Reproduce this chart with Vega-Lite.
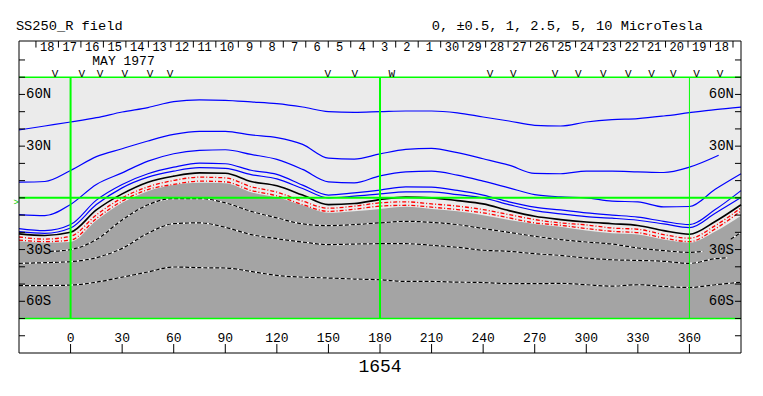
{
"$schema":"https://vega.github.io/schema/vega-lite/v6.json",
"width":722,"height":312,
"autosize":{"type":"none"},
"padding":{"left":19,"top":41,"right":22,"bottom":43},
"background":"white",
"config":{"view":{"stroke":null},"font":"Liberation Mono"},
"datasets":{
"contours":[
{"level":10,"lon":-30,"lat":39.4},{"level":10,"lon":-15,"lat":41.7},{"level":10,"lon":0,"lat":44.0},{"level":10,"lon":15,"lat":46.5},{"level":10,"lon":30,"lat":49.8},{"level":10,"lon":45,"lat":52.4},{"level":10,"lon":60,"lat":55.8},{"level":10,"lon":75,"lat":56.8},{"level":10,"lon":90,"lat":56.6},{"level":10,"lon":105,"lat":55.7},{"level":10,"lon":120,"lat":54.7},{"level":10,"lon":135,"lat":52.7},{"level":10,"lon":150,"lat":50.0},{"level":10,"lon":165,"lat":49.6},{"level":10,"lon":180,"lat":50.0},{"level":10,"lon":195,"lat":50.4},{"level":10,"lon":210,"lat":50.4},{"level":10,"lon":225,"lat":49.3},{"level":10,"lon":240,"lat":46.9},{"level":10,"lon":255,"lat":44.6},{"level":10,"lon":270,"lat":42.1},{"level":10,"lon":285,"lat":41.7},{"level":10,"lon":300,"lat":44.0},{"level":10,"lon":315,"lat":45.4},{"level":10,"lon":330,"lat":46.0},{"level":10,"lon":345,"lat":47.5},{"level":10,"lon":360,"lat":49.4},{"level":10,"lon":375,"lat":51.2},{"level":10,"lon":390,"lat":52.7},
{"level":5,"lon":-30,"lat":9.1},{"level":5,"lon":-15,"lat":9.5},{"level":5,"lon":0,"lat":15.9},{"level":5,"lon":15,"lat":23.9},{"level":5,"lon":30,"lat":28.5},{"level":5,"lon":45,"lat":33.0},{"level":5,"lon":60,"lat":36.8},{"level":5,"lon":75,"lat":38.6},{"level":5,"lon":90,"lat":38.6},{"level":5,"lon":105,"lat":36.5},{"level":5,"lon":120,"lat":34.9},{"level":5,"lon":135,"lat":31.0},{"level":5,"lon":150,"lat":23.0},{"level":5,"lon":165,"lat":22.5},{"level":5,"lon":180,"lat":25.5},{"level":5,"lon":195,"lat":28.1},{"level":5,"lon":210,"lat":28.7},{"level":5,"lon":225,"lat":26.2},{"level":5,"lon":240,"lat":22.7},{"level":5,"lon":255,"lat":19.0},{"level":5,"lon":270,"lat":14.2},{"level":5,"lon":285,"lat":14.0},{"level":5,"lon":300,"lat":15.5},{"level":5,"lon":315,"lat":15.5},{"level":5,"lon":330,"lat":15.1},{"level":5,"lon":345,"lat":14.7},{"level":5,"lon":360,"lat":17.8},{"level":5,"lon":377,"lat":24.7},
{"level":2.5,"lon":-30,"lat":-9.7},{"level":2.5,"lon":-15,"lat":-10.3},{"level":2.5,"lon":0,"lat":-3.8},{"level":2.5,"lon":15,"lat":7.8},{"level":2.5,"lon":30,"lat":14.5},{"level":2.5,"lon":45,"lat":21.3},{"level":2.5,"lon":60,"lat":25.6},{"level":2.5,"lon":75,"lat":27.5},{"level":2.5,"lon":90,"lat":27.9},{"level":2.5,"lon":105,"lat":25.2},{"level":2.5,"lon":120,"lat":22.3},{"level":2.5,"lon":135,"lat":16.5},{"level":2.5,"lon":150,"lat":9.3},{"level":2.5,"lon":165,"lat":8.7},{"level":2.5,"lon":180,"lat":12.8},{"level":2.5,"lon":195,"lat":15.1},{"level":2.5,"lon":210,"lat":15.5},{"level":2.5,"lon":225,"lat":13.2},{"level":2.5,"lon":240,"lat":9.7},{"level":2.5,"lon":255,"lat":5.8},{"level":2.5,"lon":270,"lat":1.9},{"level":2.5,"lon":285,"lat":0.6},{"level":2.5,"lon":300,"lat":0.0},{"level":2.5,"lon":315,"lat":-1.9},{"level":2.5,"lon":330,"lat":-2.3},{"level":2.5,"lon":345,"lat":-5.2},{"level":2.5,"lon":360,"lat":-5.0},{"level":2.5,"lon":375,"lat":5.0},{"level":2.5,"lon":390,"lat":14.0},
{"level":1,"lon":-30,"lat":-17.8},{"level":1,"lon":-15,"lat":-19.0},{"level":1,"lon":0,"lat":-15.5},{"level":1,"lon":15,"lat":-1.3},{"level":1,"lon":30,"lat":7.8},{"level":1,"lon":45,"lat":14.0},{"level":1,"lon":60,"lat":17.8},{"level":1,"lon":75,"lat":20.2},{"level":1,"lon":90,"lat":19.8},{"level":1,"lon":105,"lat":16.0},{"level":1,"lon":120,"lat":13.6},{"level":1,"lon":135,"lat":7.4},{"level":1,"lon":150,"lat":1.6},{"level":1,"lon":165,"lat":2.9},{"level":1,"lon":180,"lat":4.5},{"level":1,"lon":195,"lat":6.4},{"level":1,"lon":210,"lat":6.2},{"level":1,"lon":225,"lat":4.3},{"level":1,"lon":240,"lat":1.6},{"level":1,"lon":255,"lat":-2.3},{"level":1,"lon":270,"lat":-5.4},{"level":1,"lon":285,"lat":-7.0},{"level":1,"lon":300,"lat":-8.7},{"level":1,"lon":315,"lat":-10.0},{"level":1,"lon":330,"lat":-11.2},{"level":1,"lon":345,"lat":-13.6},{"level":1,"lon":360,"lat":-15.5},{"level":1,"lon":375,"lat":-6.8},{"level":1,"lon":390,"lat":4.2},
{"level":0.5,"lon":-30,"lat":-19.6},{"level":0.5,"lon":-15,"lat":-20.6},{"level":0.5,"lon":0,"lat":-17.5},{"level":0.5,"lon":15,"lat":-3.9},{"level":0.5,"lon":30,"lat":5.8},{"level":0.5,"lon":45,"lat":12.0},{"level":0.5,"lon":60,"lat":15.5},{"level":0.5,"lon":75,"lat":17.5},{"level":0.5,"lon":90,"lat":17.1},{"level":0.5,"lon":105,"lat":13.5},{"level":0.5,"lon":120,"lat":11.0},{"level":0.5,"lon":135,"lat":5.4},{"level":0.5,"lon":150,"lat":0.0},{"level":0.5,"lon":165,"lat":1.0},{"level":0.5,"lon":180,"lat":2.3},{"level":0.5,"lon":195,"lat":3.5},{"level":0.5,"lon":210,"lat":3.5},{"level":0.5,"lon":225,"lat":1.9},{"level":0.5,"lon":240,"lat":0.0},{"level":0.5,"lon":255,"lat":-3.9},{"level":0.5,"lon":270,"lat":-7.4},{"level":0.5,"lon":285,"lat":-9.3},{"level":0.5,"lon":300,"lat":-10.9},{"level":0.5,"lon":315,"lat":-11.8},{"level":0.5,"lon":330,"lat":-13.0},{"level":0.5,"lon":345,"lat":-15.1},{"level":0.5,"lon":360,"lat":-17.3},{"level":0.5,"lon":375,"lat":-8.9},{"level":0.5,"lon":390,"lat":0.2},
{"level":0,"lon":-30,"lat":-20.9},{"level":0,"lon":-15,"lat":-21.8},{"level":0,"lon":0,"lat":-20.0},{"level":0,"lon":15,"lat":-7.0},{"level":0,"lon":30,"lat":2.3},{"level":0,"lon":45,"lat":9.1},{"level":0,"lon":60,"lat":12.6},{"level":0,"lon":75,"lat":14.5},{"level":0,"lon":90,"lat":14.3},{"level":0,"lon":105,"lat":9.5},{"level":0,"lon":120,"lat":7.0},{"level":0,"lon":135,"lat":1.6},{"level":0,"lon":150,"lat":-3.9},{"level":0,"lon":165,"lat":-3.3},{"level":0,"lon":180,"lat":-1.0},{"level":0,"lon":195,"lat":0.4},{"level":0,"lon":210,"lat":0.0},{"level":0,"lon":225,"lat":-1.6},{"level":0,"lon":240,"lat":-3.5},{"level":0,"lon":255,"lat":-7.4},{"level":0,"lon":270,"lat":-10.7},{"level":0,"lon":285,"lat":-12.6},{"level":0,"lon":300,"lat":-14.0},{"level":0,"lon":315,"lat":-15.0},{"level":0,"lon":330,"lat":-16.0},{"level":0,"lon":345,"lat":-19.0},{"level":0,"lon":360,"lat":-21.1},{"level":0,"lon":375,"lat":-13.7},{"level":0,"lon":390,"lat":-4.0},
{"level":-0.5,"lon":-30,"lat":-22.7},{"level":-0.5,"lon":-15,"lat":-23.9},{"level":-0.5,"lon":0,"lat":-22.3},{"level":-0.5,"lon":15,"lat":-9.9},{"level":-0.5,"lon":30,"lat":0.0},{"level":-0.5,"lon":45,"lat":6.4},{"level":-0.5,"lon":60,"lat":10.1},{"level":-0.5,"lon":75,"lat":12.0},{"level":-0.5,"lon":90,"lat":11.6},{"level":-0.5,"lon":105,"lat":6.5},{"level":-0.5,"lon":120,"lat":3.3},{"level":-0.5,"lon":135,"lat":-1.9},{"level":-0.5,"lon":150,"lat":-6.0},{"level":-0.5,"lon":165,"lat":-4.8},{"level":-0.5,"lon":180,"lat":-2.9},{"level":-0.5,"lon":195,"lat":-2.3},{"level":-0.5,"lon":210,"lat":-3.5},{"level":-0.5,"lon":225,"lat":-4.8},{"level":-0.5,"lon":240,"lat":-6.8},{"level":-0.5,"lon":255,"lat":-9.7},{"level":-0.5,"lon":270,"lat":-12.6},{"level":-0.5,"lon":285,"lat":-14.5},{"level":-0.5,"lon":300,"lat":-15.7},{"level":-0.5,"lon":315,"lat":-17.5},{"level":-0.5,"lon":330,"lat":-18.2},{"level":-0.5,"lon":345,"lat":-21.3},{"level":-0.5,"lon":360,"lat":-23.4},{"level":-0.5,"lon":375,"lat":-16.1},{"level":-0.5,"lon":390,"lat":-5.8},
{"level":-1,"lon":-30,"lat":-24.5},{"level":-1,"lon":-15,"lat":-25.4},{"level":-1,"lon":0,"lat":-24.5},{"level":-1,"lon":15,"lat":-12.0},{"level":-1,"lon":30,"lat":-1.9},{"level":-1,"lon":45,"lat":4.8},{"level":-1,"lon":60,"lat":7.8},{"level":-1,"lon":75,"lat":9.7},{"level":-1,"lon":90,"lat":9.3},{"level":-1,"lon":105,"lat":4.3},{"level":-1,"lon":120,"lat":1.2},{"level":-1,"lon":135,"lat":-3.9},{"level":-1,"lon":150,"lat":-7.8},{"level":-1,"lon":165,"lat":-6.6},{"level":-1,"lon":180,"lat":-4.8},{"level":-1,"lon":195,"lat":-4.3},{"level":-1,"lon":210,"lat":-5.4},{"level":-1,"lon":225,"lat":-6.8},{"level":-1,"lon":240,"lat":-8.7},{"level":-1,"lon":255,"lat":-11.6},{"level":-1,"lon":270,"lat":-14.5},{"level":-1,"lon":285,"lat":-15.9},{"level":-1,"lon":300,"lat":-17.8},{"level":-1,"lon":315,"lat":-19.4},{"level":-1,"lon":330,"lat":-20.2},{"level":-1,"lon":345,"lat":-23.3},{"level":-1,"lon":360,"lat":-25.4},{"level":-1,"lon":375,"lat":-18.0},{"level":-1,"lon":390,"lat":-7.6},
{"level":-2.5,"part":"a","lon":-12,"lat":-31.0},{"level":-2.5,"part":"a","lon":0,"lat":-30.0},{"level":-2.5,"part":"a","lon":15,"lat":-24.2},{"level":-2.5,"part":"a","lon":30,"lat":-12.8},{"level":-2.5,"part":"a","lon":45,"lat":-4.0},{"level":-2.5,"part":"a","lon":60,"lat":-0.4},{"level":-2.5,"part":"a","lon":75,"lat":-0.4},{"level":-2.5,"part":"a","lon":90,"lat":-2.9},{"level":-2.5,"part":"a","lon":105,"lat":-7.8},{"level":-2.5,"part":"a","lon":120,"lat":-11.6},{"level":-2.5,"part":"a","lon":135,"lat":-15.1},{"level":-2.5,"part":"a","lon":150,"lat":-16.1},{"level":-2.5,"part":"a","lon":165,"lat":-15.5},{"level":-2.5,"part":"a","lon":180,"lat":-14.5},{"level":-2.5,"part":"a","lon":195,"lat":-13.6},{"level":-2.5,"part":"a","lon":210,"lat":-14.2},{"level":-2.5,"part":"a","lon":225,"lat":-15.5},{"level":-2.5,"part":"a","lon":240,"lat":-17.8},{"level":-2.5,"part":"a","lon":255,"lat":-20.0},{"level":-2.5,"part":"a","lon":270,"lat":-22.3},{"level":-2.5,"part":"a","lon":285,"lat":-24.2},{"level":-2.5,"part":"a","lon":300,"lat":-25.6},{"level":-2.5,"part":"a","lon":315,"lat":-26.8},{"level":-2.5,"part":"a","lon":330,"lat":-29.1},{"level":-2.5,"part":"a","lon":345,"lat":-30.6},{"level":-2.5,"part":"a","lon":360,"lat":-31.6},{"level":-2.5,"part":"a","lon":368,"lat":-31.0},
{"level":-2.5,"part":"b","lon":384,"lat":-24.0},{"level":-2.5,"part":"b","lon":390,"lat":-20.0},
{"level":-5,"part":"a","lon":-30,"lat":-38.0},{"level":-5,"part":"a","lon":-15,"lat":-37.6},{"level":-5,"part":"a","lon":0,"lat":-37.0},{"level":-5,"part":"a","lon":15,"lat":-34.7},{"level":-5,"part":"a","lon":30,"lat":-29.3},{"level":-5,"part":"a","lon":45,"lat":-20.5},{"level":-5,"part":"a","lon":60,"lat":-15.0},{"level":-5,"part":"a","lon":75,"lat":-14.5},{"level":-5,"part":"a","lon":90,"lat":-17.1},{"level":-5,"part":"a","lon":105,"lat":-21.3},{"level":-5,"part":"a","lon":120,"lat":-23.7},{"level":-5,"part":"a","lon":135,"lat":-25.6},{"level":-5,"part":"a","lon":150,"lat":-27.1},{"level":-5,"part":"a","lon":165,"lat":-26.8},{"level":-5,"part":"a","lon":180,"lat":-26.6},{"level":-5,"part":"a","lon":195,"lat":-26.6},{"level":-5,"part":"a","lon":210,"lat":-27.5},{"level":-5,"part":"a","lon":225,"lat":-28.7},{"level":-5,"part":"a","lon":240,"lat":-30.4},{"level":-5,"part":"a","lon":255,"lat":-31.0},{"level":-5,"part":"a","lon":270,"lat":-32.4},{"level":-5,"part":"a","lon":285,"lat":-33.4},{"level":-5,"part":"a","lon":300,"lat":-34.9},{"level":-5,"part":"a","lon":315,"lat":-35.9},{"level":-5,"part":"a","lon":330,"lat":-36.3},{"level":-5,"part":"a","lon":345,"lat":-36.8},{"level":-5,"part":"a","lon":360,"lat":-38.0},{"level":-5,"part":"a","lon":375,"lat":-35.3},{"level":-5,"part":"a","lon":382,"lat":-34.8},
{"level":-10,"part":"a","lon":-30,"lat":-50.9},{"level":-10,"part":"a","lon":-15,"lat":-50.9},{"level":-10,"part":"a","lon":0,"lat":-50.6},{"level":-10,"part":"a","lon":15,"lat":-48.9},{"level":-10,"part":"a","lon":30,"lat":-46.0},{"level":-10,"part":"a","lon":45,"lat":-43.0},{"level":-10,"part":"a","lon":60,"lat":-40.1},{"level":-10,"part":"a","lon":75,"lat":-40.5},{"level":-10,"part":"a","lon":90,"lat":-40.7},{"level":-10,"part":"a","lon":105,"lat":-42.7},{"level":-10,"part":"a","lon":120,"lat":-45.0},{"level":-10,"part":"a","lon":135,"lat":-46.0},{"level":-10,"part":"a","lon":150,"lat":-46.5},{"level":-10,"part":"a","lon":165,"lat":-47.1},{"level":-10,"part":"a","lon":180,"lat":-47.5},{"level":-10,"part":"a","lon":195,"lat":-48.5},{"level":-10,"part":"a","lon":210,"lat":-48.5},{"level":-10,"part":"a","lon":225,"lat":-48.9},{"level":-10,"part":"a","lon":240,"lat":-49.1},{"level":-10,"part":"a","lon":255,"lat":-49.8},{"level":-10,"part":"a","lon":270,"lat":-49.8},{"level":-10,"part":"a","lon":285,"lat":-49.6},{"level":-10,"part":"a","lon":300,"lat":-50.4},{"level":-10,"part":"a","lon":315,"lat":-51.2},{"level":-10,"part":"a","lon":330,"lat":-50.4},{"level":-10,"part":"a","lon":345,"lat":-51.4},{"level":-10,"part":"a","lon":360,"lat":-52.0},{"level":-10,"part":"a","lon":375,"lat":-50.4},{"level":-10,"part":"a","lon":390,"lat":-48.9}
],
"boundary":[
{"lon":-30,"lat":-25.2},{"lon":-15,"lat":-26.0},{"lon":0,"lat":-25.6},{"lon":15,"lat":-13.2},{"lon":30,"lat":-2.9},{"lon":45,"lat":3.9},{"lon":60,"lat":7.4},{"lon":75,"lat":8.7},{"lon":90,"lat":8.5},{"lon":105,"lat":3.3},{"lon":120,"lat":0.3},{"lon":135,"lat":-4.3},{"lon":150,"lat":-8.7},{"lon":165,"lat":-7.8},{"lon":180,"lat":-6.4},{"lon":195,"lat":-5.2},{"lon":210,"lat":-6.4},{"lon":225,"lat":-7.8},{"lon":240,"lat":-10.1},{"lon":255,"lat":-12.8},{"lon":270,"lat":-15.1},{"lon":285,"lat":-16.7},{"lon":300,"lat":-19.0},{"lon":315,"lat":-20.5},{"lon":330,"lat":-21.3},{"lon":345,"lat":-24.2},{"lon":360,"lat":-26.0},{"lon":375,"lat":-19.5},{"lon":390,"lat":-10.4}
],
"days":[
{"lon":-13.6,"day":"18"},{"lon":-0.52,"day":"17"},{"lon":12.56,"day":"16"},{"lon":25.64,"day":"15"},{"lon":38.72,"day":"14"},{"lon":51.8,"day":"13"},{"lon":64.88,"day":"12"},{"lon":77.96,"day":"11"},{"lon":91.04,"day":"10"},{"lon":104.12,"day":"9"},{"lon":117.2,"day":"8"},{"lon":130.28,"day":"7"},{"lon":143.36,"day":"6"},{"lon":156.44,"day":"5"},{"lon":169.52,"day":"4"},{"lon":182.6,"day":"3"},{"lon":195.68,"day":"2"},{"lon":208.76,"day":"1"},{"lon":221.84,"day":"30"},{"lon":234.92,"day":"29"},{"lon":248.0,"day":"28"},{"lon":261.08,"day":"27"},{"lon":274.16,"day":"26"},{"lon":287.24,"day":"25"},{"lon":300.32,"day":"24"},{"lon":313.4,"day":"23"},{"lon":326.48,"day":"22"},{"lon":339.56,"day":"21"},{"lon":352.64,"day":"20"},{"lon":365.72,"day":"19"},{"lon":378.8,"day":"18"}
],
"seps":[
{"lon":-20.14},{"lon":-7.06},{"lon":6.02},{"lon":19.1},{"lon":32.18},{"lon":45.26},{"lon":58.34},{"lon":71.42},{"lon":84.5},{"lon":97.58},{"lon":110.66},{"lon":123.74},{"lon":136.82},{"lon":149.9},{"lon":162.98},{"lon":176.06},{"lon":189.14},{"lon":202.22},{"lon":215.3},{"lon":228.38},{"lon":241.46},{"lon":254.54},{"lon":267.62},{"lon":280.7},{"lon":293.78},{"lon":306.86},{"lon":319.94},{"lon":333.02},{"lon":346.1},{"lon":359.18},{"lon":372.26},{"lon":385.34}
],
"obs":[
{"lon":-9.1,"sym":"V"},{"lon":6.5,"sym":"V"},{"lon":17.1,"sym":"V"},{"lon":31.6,"sym":"V"},{"lon":46.2,"sym":"V"},{"lon":57.8,"sym":"V"},{"lon":149.7,"sym":"V"},{"lon":165.4,"sym":"V"},{"lon":186.8,"sym":"W"},{"lon":244.0,"sym":"V"},{"lon":257.5,"sym":"V"},{"lon":281.8,"sym":"V"},{"lon":295.3,"sym":"V"},{"lon":309.9,"sym":"V"},{"lon":324.4,"sym":"V"},{"lon":338.0,"sym":"V"},{"lon":350.6,"sym":"V"},{"lon":364.2,"sym":"V"},{"lon":377.8,"sym":"V"}
],
"xticks":[
{"lon":0},{"lon":30},{"lon":60},{"lon":90},{"lon":120},{"lon":150},{"lon":180},{"lon":210},{"lon":240},{"lon":270},{"lon":300},{"lon":330},{"lon":360}
],
"yticks":[
{"lat":-80},{"lat":-70},{"lat":-60},{"lat":-50},{"lat":-40},{"lat":-30},{"lat":-20},{"lat":-10},{"lat":0},{"lat":10},{"lat":20},{"lat":30},{"lat":40},{"lat":50},{"lat":60},{"lat":70},{"lat":80}
],
"ylabels":[
{"lat":60,"label":"60N"},{"lat":30,"label":"30N"},{"lat":-30,"label":"30S"},{"lat":-60,"label":"60S"}
]
},
"layer":[
{"data":{"values":[{}]},"mark":{"type":"rect","color":"#ebebeb"},
 "encoding":{"x":{"datum":-30,"type":"quantitative","scale":{"domain":[-30,390],"nice":false,"zero":false},"axis":null},"x2":{"datum":390},
 "y":{"datum":-70,"type":"quantitative","scale":{"domain":[-90,91],"nice":false,"zero":false},"axis":null},"y2":{"datum":70}}},
{"data":{"name":"boundary"},"mark":{"type":"area","color":"#a4a4a4","interpolate":"monotone"},
 "encoding":{"x":{"field":"lon","type":"quantitative","scale":{"domain":[-30,390],"nice":false,"zero":false},"axis":null},
 "y":{"field":"lat","type":"quantitative","scale":{"domain":[-90,91],"nice":false,"zero":false},"axis":null},"y2":{"datum":-70}}},
{"data":{"name":"contours"},"transform":[{"filter":"datum.level > 0"}],"mark":{"type":"line","color":"#0000ff","strokeWidth":1.2,"interpolate":"monotone"},
 "encoding":{"x":{"field":"lon","type":"quantitative","scale":{"domain":[-30,390],"nice":false,"zero":false},"axis":null},
 "y":{"field":"lat","type":"quantitative","scale":{"domain":[-90,91],"nice":false,"zero":false},"axis":null},
 "detail":{"field":"level"}}},
{"data":{"name":"contours"},"transform":[{"filter":"datum.level == 0"}],"mark":{"type":"line","color":"black","strokeWidth":1.6,"interpolate":"monotone"},
 "encoding":{"x":{"field":"lon","type":"quantitative","scale":{"domain":[-30,390],"nice":false,"zero":false},"axis":null},
 "y":{"field":"lat","type":"quantitative","scale":{"domain":[-90,91],"nice":false,"zero":false},"axis":null}}},
{"data":{"name":"contours"},"transform":[{"filter":"datum.level < 0 && datum.level > -2"}],"mark":{"type":"line","color":"#ff0000","strokeWidth":1.3,"strokeDash":[4,2,1,2],"interpolate":"monotone"},
 "encoding":{"x":{"field":"lon","type":"quantitative","scale":{"domain":[-30,390],"nice":false,"zero":false},"axis":null},
 "y":{"field":"lat","type":"quantitative","scale":{"domain":[-90,91],"nice":false,"zero":false},"axis":null},"detail":{"field":"level"}}},
{"data":{"name":"contours"},"transform":[{"filter":"datum.level <= -2"}],"mark":{"type":"line","color":"white","strokeWidth":1.2,"interpolate":"monotone"},
 "encoding":{"x":{"field":"lon","type":"quantitative","scale":{"domain":[-30,390],"nice":false,"zero":false},"axis":null},
 "y":{"field":"lat","type":"quantitative","scale":{"domain":[-90,91],"nice":false,"zero":false},"axis":null},"detail":[{"field":"level"},{"field":"part"}]}},
{"data":{"name":"contours"},"transform":[{"filter":"datum.level <= -2"}],"mark":{"type":"line","color":"black","strokeWidth":1.2,"strokeDash":[4,2],"interpolate":"monotone"},
 "encoding":{"x":{"field":"lon","type":"quantitative","scale":{"domain":[-30,390],"nice":false,"zero":false},"axis":null},
 "y":{"field":"lat","type":"quantitative","scale":{"domain":[-90,91],"nice":false,"zero":false},"axis":null},"detail":[{"field":"level"},{"field":"part"}]}},
{"data":{"values":[{"lat":70},{"lat":0},{"lat":-70}]},"mark":{"type":"rule","color":"#00ff00"},
 "encoding":{"y":{"field":"lat","type":"quantitative","scale":{"domain":[-90,91],"nice":false,"zero":false},"axis":null},
 "x":{"datum":-30,"type":"quantitative","scale":{"domain":[-30,390],"nice":false,"zero":false},"axis":null},"x2":{"datum":390},
 "strokeWidth":{"condition":{"test":"datum.lat == 0","value":2},"value":1.5}}},
{"data":{"values":[{"lon":0},{"lon":180},{"lon":360}]},"mark":{"type":"rule","color":"#00ff00"},
 "encoding":{"x":{"field":"lon","type":"quantitative","scale":{"domain":[-30,390],"nice":false,"zero":false},"axis":null},
 "y":{"datum":-70,"type":"quantitative","scale":{"domain":[-90,91],"nice":false,"zero":false},"axis":null},"y2":{"datum":70},
 "strokeWidth":{"condition":{"test":"datum.lon == 360","value":1},"value":2}}},
{"data":{"name":"xticks"},"mark":{"type":"rule","color":"black","strokeWidth":1},
 "encoding":{"x":{"field":"lon","type":"quantitative","scale":{"domain":[-30,390],"nice":false,"zero":false},"axis":null},
 "y":{"datum":-90,"type":"quantitative","scale":{"domain":[-90,91],"nice":false,"zero":false},"axis":null},"y2":{"datum":-84.8}}},
{"data":{"name":"xticks"},"mark":{"type":"text","align":"center","baseline":"middle","font":"Liberation Mono","fontSize":13,"color":"black"},
 "encoding":{"x":{"field":"lon","type":"quantitative","scale":{"domain":[-30,390],"nice":false,"zero":false},"axis":null},
 "y":{"datum":-81.1,"type":"quantitative","scale":{"domain":[-90,91],"nice":false,"zero":false},"axis":null},"text":{"field":"lon","type":"quantitative","format":"d"}}},
{"data":{"name":"yticks"},"mark":{"type":"rule","color":"black","strokeWidth":1},
 "encoding":{"y":{"field":"lat","type":"quantitative","scale":{"domain":[-90,91],"nice":false,"zero":false},"axis":null},
 "x":{"datum":-30,"type":"quantitative","scale":{"domain":[-30,390],"nice":false,"zero":false},"axis":null},"x2":{"datum":-26.5}}},
{"data":{"name":"yticks"},"mark":{"type":"rule","color":"black","strokeWidth":1},
 "encoding":{"y":{"field":"lat","type":"quantitative","scale":{"domain":[-90,91],"nice":false,"zero":false},"axis":null},
 "x":{"datum":386.5,"type":"quantitative","scale":{"domain":[-30,390],"nice":false,"zero":false},"axis":null},"x2":{"datum":390}}},
{"data":{"name":"ylabels"},"mark":{"type":"text","align":"left","baseline":"middle","font":"Liberation Mono","fontSize":14,"color":"black"},
 "encoding":{"y":{"field":"lat","type":"quantitative","scale":{"domain":[-90,91],"nice":false,"zero":false},"axis":null},
 "x":{"datum":-25.9,"type":"quantitative","scale":{"domain":[-30,390],"nice":false,"zero":false},"axis":null},"text":{"field":"label"}}},
{"data":{"name":"ylabels"},"mark":{"type":"text","align":"right","baseline":"middle","font":"Liberation Mono","fontSize":14,"color":"black"},
 "encoding":{"y":{"field":"lat","type":"quantitative","scale":{"domain":[-90,91],"nice":false,"zero":false},"axis":null},
 "x":{"datum":385.9,"type":"quantitative","scale":{"domain":[-30,390],"nice":false,"zero":false},"axis":null},"text":{"field":"label"}}},
{"data":{"values":[{"label":"1654"}]},"mark":{"type":"text","align":"center","baseline":"middle","font":"Liberation Mono","fontSize":18,"color":"black"},
 "encoding":{"x":{"datum":180,"type":"quantitative","scale":{"domain":[-30,390],"nice":false,"zero":false},"axis":null},
 "y":{"datum":-98.1,"type":"quantitative","scale":{"domain":[-90,91],"nice":false,"zero":false},"axis":null},"text":{"field":"label"}}},
{"data":{"name":"seps"},"mark":{"type":"rule","color":"black","strokeWidth":1},
 "encoding":{"x":{"field":"lon","type":"quantitative","scale":{"domain":[-30,390],"nice":false,"zero":false},"axis":null},
 "y":{"datum":91,"type":"quantitative","scale":{"domain":[-90,91],"nice":false,"zero":false},"axis":null},"y2":{"datum":87.2}}},
{"data":{"name":"days"},"mark":{"type":"text","align":"center","baseline":"alphabetic","font":"Liberation Mono","fontSize":12,"color":"black"},
 "encoding":{"x":{"field":"lon","type":"quantitative","scale":{"domain":[-30,390],"nice":false,"zero":false},"axis":null},
 "y":{"datum":85.0,"type":"quantitative","scale":{"domain":[-90,91],"nice":false,"zero":false},"axis":null},"text":{"field":"day"}}},
{"data":{"name":"obs"},"mark":{"type":"text","align":"center","baseline":"alphabetic","font":"Liberation Mono","fontSize":11,"color":"black"},
 "encoding":{"x":{"field":"lon","type":"quantitative","scale":{"domain":[-30,390],"nice":false,"zero":false},"axis":null},
 "y":{"datum":70.4,"type":"quantitative","scale":{"domain":[-90,91],"nice":false,"zero":false},"axis":null},"text":{"field":"sym"}}},
{"data":{"values":[{"lon":30.8,"text":"MAY 1977"}]},"mark":{"type":"text","align":"center","baseline":"alphabetic","font":"Liberation Mono","fontSize":13,"color":"black"},
 "encoding":{"x":{"field":"lon","type":"quantitative","scale":{"domain":[-30,390],"nice":false,"zero":false},"axis":null},
 "y":{"datum":77.1,"type":"quantitative","scale":{"domain":[-90,91],"nice":false,"zero":false},"axis":null},"text":{"field":"text"}}},
{"data":{"values":[{"lon":-31.8,"text":"SS250_R field"},{"lon":210.1,"text":"0, ±0.5, 1, 2.5, 5, 10 MicroTesla"}]},"mark":{"type":"text","align":"left","baseline":"alphabetic","font":"Liberation Mono","fontSize":13.7,"color":"black"},
 "encoding":{"x":{"field":"lon","type":"quantitative","scale":{"domain":[-30,390],"nice":false,"zero":false},"axis":null},
 "y":{"datum":97.1,"type":"quantitative","scale":{"domain":[-90,91],"nice":false,"zero":false},"axis":null},"text":{"field":"text"}}},
{"data":{"values":[{"lon":-31.6,"lat":-2.3}]},"mark":{"type":"text","align":"center","baseline":"middle","font":"Liberation Mono","fontSize":9,"color":"#00cc00","text":">"},
 "encoding":{"x":{"field":"lon","type":"quantitative","scale":{"domain":[-30,390],"nice":false,"zero":false},"axis":null},
 "y":{"field":"lat","type":"quantitative","scale":{"domain":[-90,91],"nice":false,"zero":false},"axis":null}}},
{"data":{"values":[{}]},"mark":{"type":"rect","fill":null,"fillOpacity":0,"stroke":"black","strokeWidth":1},
 "encoding":{"x":{"datum":-30,"type":"quantitative","scale":{"domain":[-30,390],"nice":false,"zero":false},"axis":null},"x2":{"datum":390},
 "y":{"datum":-90,"type":"quantitative","scale":{"domain":[-90,91],"nice":false,"zero":false},"axis":null},"y2":{"datum":91}}}
]
}
